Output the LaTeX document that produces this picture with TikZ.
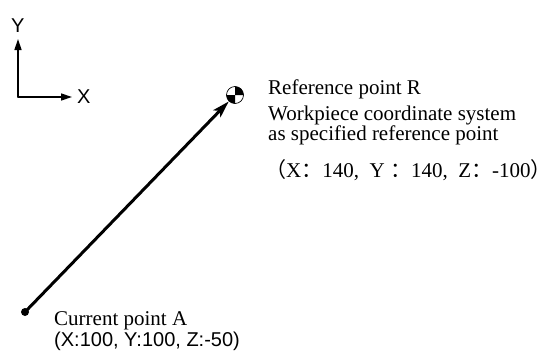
\documentclass[tikz,border=0pt]{standalone}
\usepackage{fontspec}
\setmainfont{Liberation Serif}
\newfontfamily\sansf{Liberation Sans}
\newfontfamily\cjk{Noto Sans CJK SC}
\usetikzlibrary{arrows.meta,calc}

\begin{document}
\begin{tikzpicture}[x=1pt,y=-1pt,line join=round,line cap=round,
  txt/.style={anchor=base west,inner sep=0pt,font=\fontsize{21}{24}\selectfont},
  stxt/.style={anchor=base west,inner sep=0pt,font=\sansf\fontsize{20}{24}\selectfont}]
\useasboundingbox (0,0) rectangle (554,354);

% points
\coordinate (O) at (18,97);
\coordinate (ax) at (72,97);
\coordinate (ay) at (18,39);
\coordinate (A) at (25,312);
\coordinate (R) at (235,95);

% axes
\draw[line width=1.4pt,-{Triangle[length=11pt,width=7pt]}] (O)--(ax);
\draw[line width=1.4pt,-{Triangle[length=11pt,width=7pt]}] (O)--(ay);
\node[stxt] (xl) at (77,103) {X};
\node[stxt] (yl) at (11,32) {Y};

% reference mark
\fill (R) -- ++(-8.5,0) arc[start angle=180,end angle=90,radius=8.5] -- cycle;
\fill (R) -- ++(8.5,0) arc[start angle=0,end angle=-90,radius=8.5] -- cycle;
\draw[line width=0.7pt] (R) circle (8.5);

% move A -> R
\fill (A) circle (4);
\draw[line width=3pt,-{Stealth[length=17pt,width=10pt,inset=4pt]}] (A)--($(R)!9pt!(A)$);

% labels
\node[txt] (rp) at (268,94) {Reference point R};
\node[txt] (w1) at (268,120) {Workpiece coordinate system};
\node[txt] (w2) at (268,140) {as specified reference point};
\node[txt] (rc) at (265,177) {{\cjk （}X{\cjk ：}140,\ \ Y\ {\cjk ：}140,\ \ Z{\cjk ：}-100{\cjk ）}};

\node[txt] (cp) at (54,325) {Current point A};
\node[stxt] (ac) at (54,346) {(X:100, Y:100, Z:-50)};

\end{tikzpicture}
\end{document}
